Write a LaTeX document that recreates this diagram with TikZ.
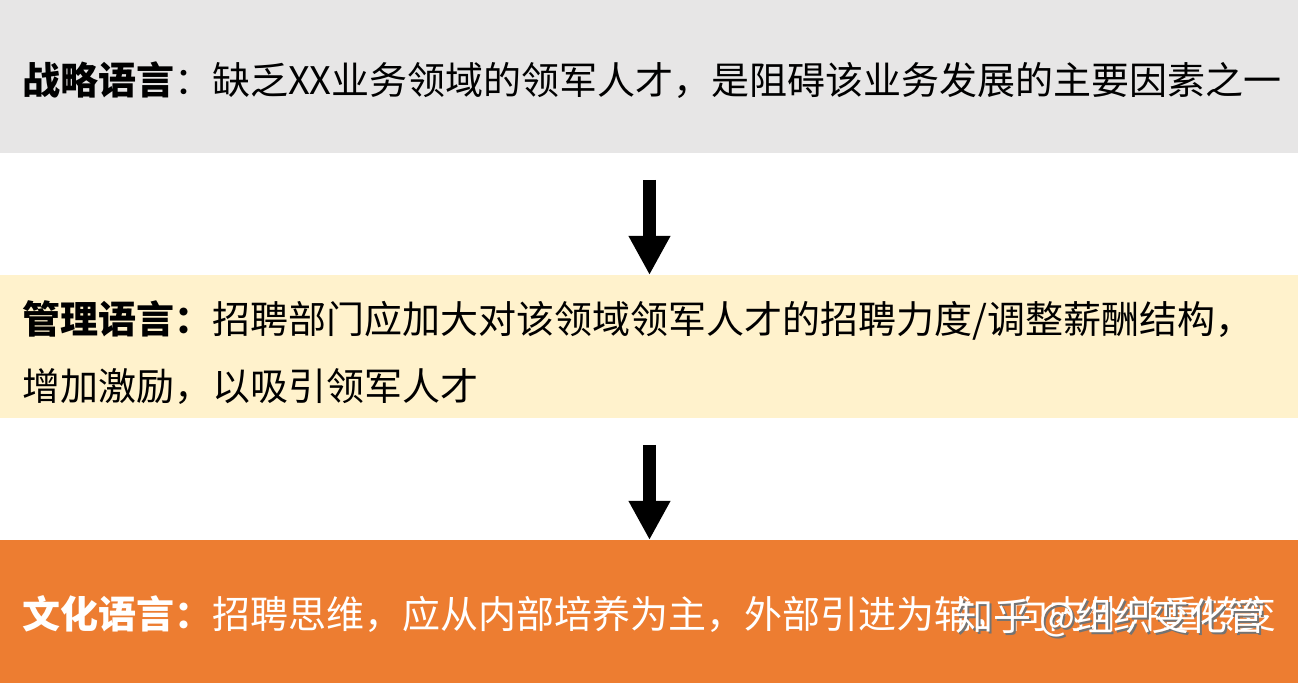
\documentclass[tikz,border=0pt]{standalone}
\usepackage{fontspec}
\setmainfont{Noto Sans CJK SC}
\usepackage{tikz}
\usetikzlibrary{calc,arrows.meta}

\definecolor{bandgray}{HTML}{E7E6E6}
\definecolor{bandyellow}{HTML}{FFF2CC}
\definecolor{bandorange}{HTML}{ED7D31}

\tikzset{
    band/.style={rectangle, inner sep=0pt, outer sep=0pt, minimum width=1298pt},
    bandtext/.style={anchor=west, inner sep=0pt, align=left,
        font=\fontsize{38}{67}\selectfont},
    marktext/.style={anchor=west, inner sep=0pt,
        font=\fontsize{38}{38}\selectfont},
    downarrow/.style={line width=13pt,
        -{Triangle[width=39pt,length=39pt]}},
}

\begin{document}
\begin{tikzpicture}[x=1pt,y=1pt]
        \useasboundingbox (0,0) rectangle (1298,683);
        % the three bands
        \node[band, fill=bandgray, minimum height=153pt] (strategy) at (649,606.5) {};
        \node[band, fill=bandyellow, minimum height=143pt] (manage) at (649,336.5) {};
        \node[band, fill=bandorange, minimum height=143pt] (culture) at (649,71.5) {};
        % texts
        \node[bandtext] (strategytext) at (22,603)
            {\textbf{战略语言}：缺乏XX业务领域的领军人才，是阻碍该业务发展的主要因素之一};
        \node[bandtext] (managetext) at (22,330.5)
            {\textbf{管理语言：}招聘部门应加大对该领域领军人才的招聘力度/调整薪酬结构，\\
             增加激励，以吸引领军人才};
        \node[bandtext, text=white] (culturetext) at (22,69)
            {\textbf{文化语言：}招聘思维，应从内部培养为主，外部引进为辅，向内外并重转变};
        % watermark
        \node[marktext, text=black!55] (markshadow) at (957,63) {知乎 @组织变化管};
        \node[marktext, text=white] (mark) at (955,65) {知乎 @组织变化管};
        % arrows
        \coordinate (arrowa) at ($(strategy.south)+(0.5,-27)$);
        \coordinate (arrowb) at ($(manage.south)+(0.5,-27)$);
        \draw[downarrow] (arrowa) -- (arrowa |- manage.north);
        \draw[downarrow] (arrowb) -- (arrowb |- culture.north);
    \end{tikzpicture}
\end{document}
